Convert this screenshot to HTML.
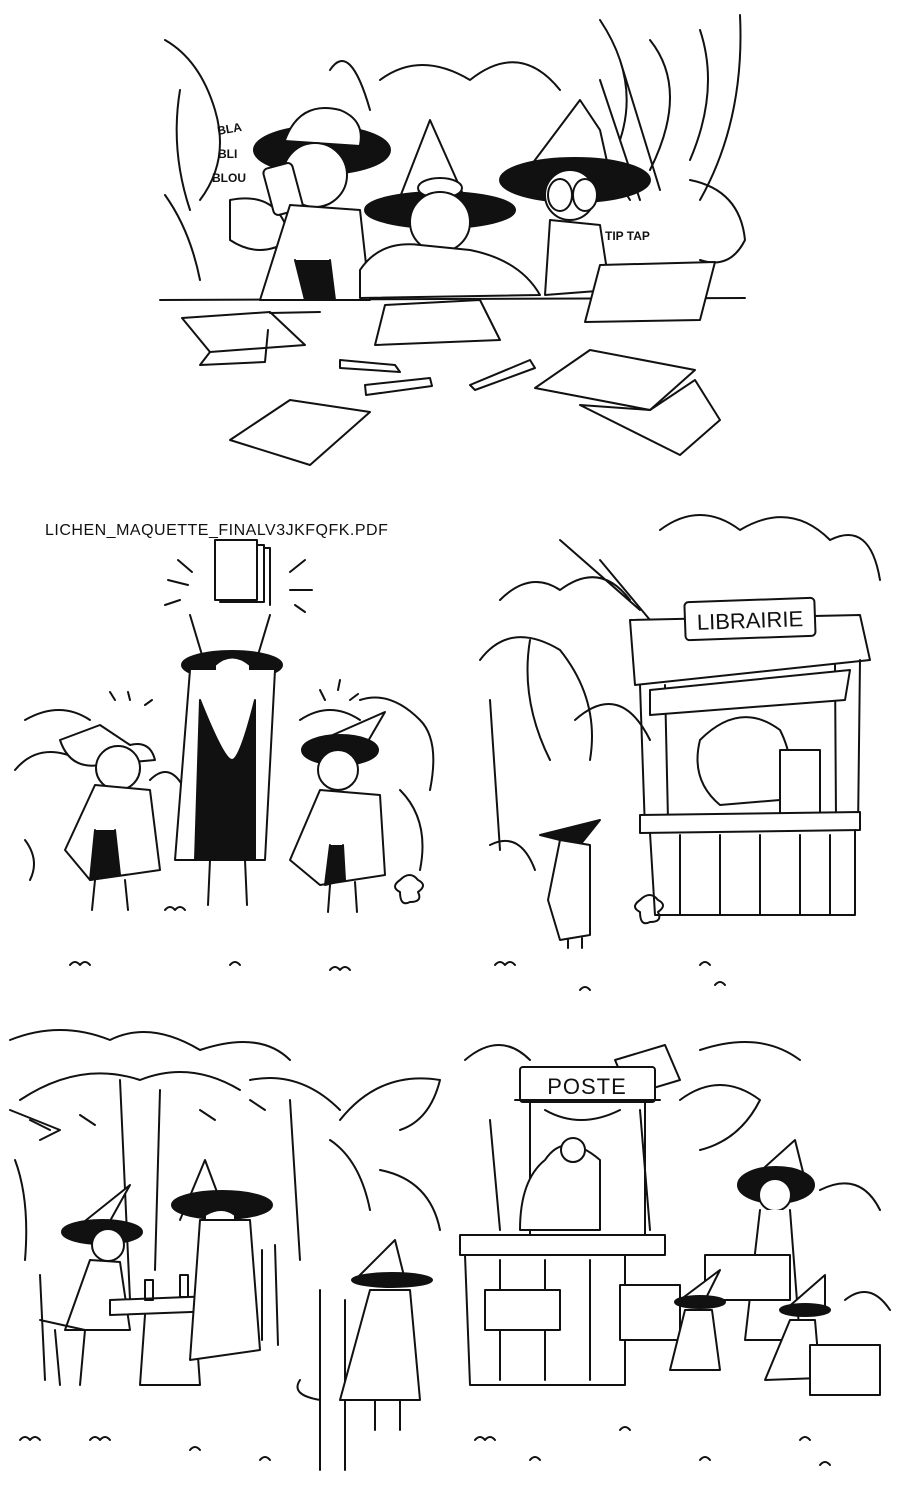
<!DOCTYPE html>
<html><head><meta charset="utf-8"><style>
html,body{margin:0;padding:0;background:#fff;width:900px;height:1490px;overflow:hidden}
svg{display:block}
text{font-family:"Liberation Sans",sans-serif;fill:#111}
</style></head><body>
<svg width="900" height="1490" viewBox="0 0 900 1490" xmlns="http://www.w3.org/2000/svg">
<g fill="none" stroke="#111" stroke-width="2" stroke-linecap="round" stroke-linejoin="round">
<!-- PANEL 1 -->
<path d="M165 40 Q200 60 215 110 Q230 160 200 200 M180 90 Q170 150 190 210 M165 195 Q190 230 200 280 M330 70 Q350 40 370 110 M380 80 Q420 50 470 80 Q520 40 560 90 M600 20 Q640 80 620 140 M650 40 Q690 90 650 170 M700 30 Q720 90 690 160 M740 15 Q745 120 700 200 M690 180 Q740 190 745 240 Q730 270 700 260 M600 80 L640 200 M620 60 L660 190 M580 120 L630 200"/>
<path d="M230 200 Q280 190 290 240 Q260 260 230 240 Z"/>
<line x1="160" y1="300" x2="745" y2="298"/>
<!-- witch 1 -->
<ellipse cx="322" cy="150" rx="68" ry="24" fill="#111"/>
<path d="M285 140 Q300 100 340 110 Q365 120 360 145" fill="#fff"/>
<circle cx="315" cy="175" r="32" fill="#fff"/>
<rect x="268" y="165" width="30" height="48" rx="5" transform="rotate(-15 283 189)" fill="#fff"/>
<path d="M290 205 L260 300 L370 300 L360 210 Z" fill="#fff"/>
<path d="M295 260 L305 300 L335 300 L330 260" fill="#111"/>
<!-- witch 2 -->
<path d="M395 210 L430 120 L470 210" fill="#fff"/>
<ellipse cx="440" cy="210" rx="75" ry="18" fill="#111"/>
<ellipse cx="440" cy="188" rx="22" ry="10" fill="#fff"/>
<circle cx="440" cy="222" r="30" fill="#fff"/>
<path d="M360 270 Q380 240 420 245 L470 250 Q520 260 540 295 L360 298 Z" fill="#fff"/>
<!-- witch 3 -->
<path d="M520 180 L580 100 L600 130 L610 175" fill="#fff"/>
<ellipse cx="575" cy="180" rx="75" ry="22" fill="#111"/>
<circle cx="570" cy="195" r="25" fill="#fff"/>
<ellipse cx="560" cy="195" rx="12" ry="16" fill="#fff"/><ellipse cx="585" cy="195" rx="12" ry="16" fill="#fff"/>
<path d="M550 220 L545 295 L610 290 L600 225 Z" fill="#fff"/>
<path d="M600 265 L715 262 L700 320 L585 322 Z" fill="#fff"/>
<!-- desk items -->
<path d="M182 318 L270 312 L305 345 L210 352 Z"/>
<path d="M210 352 L200 365 L265 362 L268 330"/>
<path d="M270 313 L320 312"/>
<path d="M385 305 L480 300 L500 340 L375 345 Z"/>
<path d="M340 360 L395 365 L400 372 L340 368 Z"/>
<path d="M365 385 L430 378 L432 386 L366 395 Z"/>
<path d="M470 385 L530 360 L535 368 L475 390 Z"/>
<path d="M535 388 L590 350 L695 370 L650 410 Z"/>
<path d="M580 405 L650 410 L695 380 L720 420 L680 455 Z"/>
<path d="M230 440 L290 400 L370 412 L310 465 Z"/>
</g>
<text x="218" y="135" font-size="12" font-weight="bold" transform="rotate(-10 218 135)">BLA</text>
<text x="218" y="158" font-size="12" font-weight="bold">BLI</text>
<text x="212" y="182" font-size="12" font-weight="bold">BLOU</text>
<text x="605" y="240" font-size="12" font-weight="bold">TIP TAP</text>

<!-- PANEL 2 -->
<text x="45" y="535" font-size="16" font-family="Liberation Mono" letter-spacing="0.5">LICHEN_MAQUETTE_FINALV3JKFQFK.PDF</text>
<g fill="none" stroke="#111" stroke-width="2" stroke-linecap="round" stroke-linejoin="round">
<rect x="215" y="540" width="42" height="60" fill="#fff"/><path d="M257 545 L264 545 L264 602 L220 602"/><path d="M264 548 L270 548 L270 605"/>
<path d="M168 580 L188 585 M178 560 L192 572 M290 572 L305 560 M290 590 L312 590 M295 605 L305 612 M165 605 L180 600"/>
<path d="M25 720 Q60 700 90 720 M15 770 Q40 740 80 760 M300 720 Q330 700 360 720 M360 700 Q390 690 420 720 Q440 740 430 790 M400 790 Q430 820 420 870 M150 780 Q170 760 185 790 M25 840 Q40 860 30 880"/>
<!-- left witch -->
<path d="M60 740 L100 725 L130 745 Q150 740 155 760 L100 765 Q70 770 60 740" fill="#fff"/>
<circle cx="118" cy="768" r="22" fill="#fff"/>
<path d="M95 785 L65 850 L90 880 L160 870 L150 790 Z" fill="#fff"/>
<path d="M95 830 L90 880 L120 875 L115 830" fill="#111"/>
<path d="M95 880 L92 910 M125 880 L128 910"/>
<!-- tall center -->
<path d="M190 615 L205 665 M270 615 L255 665"/>
<ellipse cx="232" cy="665" rx="50" ry="14" fill="#111"/>
<path d="M215 665 Q232 650 250 665 L250 720 Q240 735 232 740 Q224 735 215 720 Z" fill="#fff"/>
<path d="M190 670 L175 860 L265 860 L275 670" fill="#fff"/>
<path d="M200 700 L195 860 L255 860 L255 700 Q240 760 232 760 Q224 760 200 700" fill="#111"/>
<path d="M210 860 L208 905 M245 860 L247 905"/>
<!-- right witch -->
<path d="M310 745 L385 712 L360 755" fill="#fff"/>
<ellipse cx="340" cy="750" rx="38" ry="15" fill="#111"/>
<circle cx="338" cy="770" r="20" fill="#fff"/>
<path d="M320 790 L290 860 L320 885 L385 875 L380 795 Z" fill="#fff"/>
<path d="M330 845 L325 885 L345 880 L343 845" fill="#111"/>
<path d="M330 885 L328 912 M355 882 L357 912"/>
<path d="M115 700 L110 692 M128 692 L130 700 M145 705 L152 700 M320 690 L325 700 M340 680 L338 690 M350 700 L358 694"/>
<path d="M400 880 q10 -10 18 0 q10 5 0 12 q5 10 -8 10 q-10 5 -10 -10 q-10 -5 0 -12"/>
<path d="M70 965 q5 -6 10 0 q5 -6 10 0 M230 965 q5 -6 10 0 M330 970 q5 -6 10 0 q5 -6 10 0 M165 910 q5 -6 10 0 q5 -6 10 0"/>
<!-- PANEL 3 -->
<path d="M500 600 Q530 570 560 590 Q600 560 630 600 M560 540 L640 610 M600 560 L650 620 M660 530 Q700 500 740 530 Q790 500 830 540 Q870 520 880 580 M480 660 Q510 620 560 650 Q600 700 590 760 M530 640 Q520 700 550 760 M490 700 L500 850 M575 720 Q620 680 650 740"/>
<path d="M630 620 L860 615 L870 660 L635 685 Z" fill="#fff"/>
<path d="M640 685 L645 830 M860 660 L858 830 M665 685 L668 820 M835 665 L836 820"/>
<path d="M650 690 L850 670 L845 700 L650 715 Z" fill="#fff"/>
<rect x="685" y="600" width="130" height="38" rx="4" fill="#fff" transform="rotate(-2 750 620)"/>
<path d="M700 740 Q740 700 780 730 Q800 770 780 800 L720 805 Q690 780 700 740" fill="#fff"/>
<rect x="780" y="750" width="40" height="65" fill="#fff"/>
<path d="M640 815 L860 812 L860 830 L640 833 Z" fill="#fff"/>
<path d="M650 833 L655 915 L855 915 L855 830 M680 835 L680 915 M720 835 L720 915 M760 835 L760 915 M800 835 L800 915 M830 835 L830 915"/>
<path d="M540 835 L600 820 L580 845 Z" fill="#111"/>
<path d="M560 840 L548 900 L560 940 L590 935 L590 845 Z" fill="#fff"/>
<path d="M568 940 L568 948 M582 938 L582 948"/>
<path d="M490 845 Q520 830 535 870 M640 900 q10 -10 18 0 q10 5 0 12 q5 10 -8 10 q-10 5 -10 -10 q-10 -5 0 -12"/>
<path d="M495 965 q5 -6 10 0 q5 -6 10 0 M580 990 q5 -6 10 0 M700 965 q5 -6 10 0 M715 985 q5 -6 10 0"/>
<!-- PANEL 4 -->
<path d="M10 1040 Q60 1020 110 1040 Q150 1020 200 1050 Q260 1030 290 1060 M20 1100 Q80 1060 140 1080 Q190 1060 240 1090 M250 1080 Q300 1070 340 1110 M340 1120 Q380 1070 440 1080 Q430 1120 400 1130 M10 1110 L60 1130 L40 1140 M120 1080 L130 1300 M160 1090 L155 1270 M290 1100 L300 1260 M330 1140 Q360 1160 370 1210 M380 1170 Q430 1180 440 1230 M15 1160 Q30 1200 25 1260"/>
<path d="M30 1120 L50 1130 M80 1115 L95 1125 M200 1110 L215 1120 M250 1100 L265 1110"/>
<path d="M80 1225 L130 1185 L105 1230" fill="#fff"/>
<ellipse cx="102" cy="1232" rx="40" ry="12" fill="#111"/>
<circle cx="108" cy="1245" r="16" fill="#fff"/>
<path d="M90 1260 L65 1330 L130 1330 L120 1262 Z" fill="#fff"/>
<path d="M40 1275 L45 1380 M40 1320 L85 1330 L80 1385 M55 1330 L60 1385"/>
<path d="M110 1300 L240 1295 L245 1310 L110 1315 Z" fill="#fff"/>
<path d="M145 1315 L140 1385 L200 1385 L195 1315"/>
<rect x="145" y="1280" width="8" height="20"/><rect x="180" y="1275" width="8" height="22"/>
<path d="M180 1220 L205 1160 L220 1200" fill="#fff"/>
<ellipse cx="222" cy="1205" rx="50" ry="14" fill="#111"/>
<path d="M205 1215 Q222 1205 235 1215 L235 1260 L205 1260 Z" fill="#fff"/>
<path d="M200 1220 L190 1360 L260 1350 L250 1220 Z" fill="#fff"/>
<path d="M262 1250 L262 1340 M275 1245 L278 1345"/>
<path d="M320 1290 L320 1470 M345 1300 L345 1470 M300 1380 Q290 1395 320 1400"/>
<path d="M355 1280 L395 1240 L405 1280" fill="#fff"/>
<ellipse cx="392" cy="1280" rx="40" ry="7" fill="#111"/>
<path d="M370 1290 L340 1400 L420 1400 L410 1290 Z" fill="#fff"/>
<path d="M375 1400 L375 1430 M400 1400 L400 1430"/>
<path d="M20 1440 q5 -6 10 0 q5 -6 10 0 M90 1440 q5 -6 10 0 q5 -6 10 0 M190 1450 q5 -6 10 0 M260 1460 q5 -6 10 0"/>
<!-- PANEL 5 -->
<path d="M465 1060 Q500 1030 530 1060 M700 1050 Q760 1030 800 1060 M680 1100 Q720 1070 760 1100 Q740 1140 700 1150 M820 1190 Q860 1170 880 1210 M845 1300 Q870 1280 890 1310 M490 1120 L500 1230 M640 1110 L650 1230"/>
<path d="M615 1060 L665 1045 L680 1080 L630 1095 Z" fill="#fff"/>
<rect x="520" y="1067" width="135" height="35" rx="3" fill="#fff"/>
<path d="M515 1100 L660 1100 M530 1102 L530 1235 M645 1102 L645 1235 M545 1110 Q580 1130 620 1110"/>
<path d="M545 1160 Q565 1130 600 1160 L600 1230 L520 1230 Q520 1180 545 1160" fill="#fff"/>
<circle cx="573" cy="1150" r="12" fill="#fff"/>
<path d="M460 1235 L665 1235 L665 1255 L460 1255 Z" fill="#fff"/>
<path d="M465 1255 L470 1385 L625 1385 L625 1255 M500 1260 L500 1380 M545 1260 L545 1380 M590 1260 L590 1380"/>
<rect x="485" y="1290" width="75" height="40" fill="#fff"/>
<rect x="620" y="1285" width="60" height="55" fill="#fff"/>
<path d="M745 1185 L795 1140 L805 1180" fill="#fff"/>
<ellipse cx="776" cy="1185" rx="38" ry="18" fill="#111"/>
<circle cx="775" cy="1195" r="16" fill="#fff"/>
<path d="M760 1210 L745 1340 L800 1340 L790 1210" fill="#fff"/>
<rect x="705" y="1255" width="85" height="45" fill="#fff"/>
<path d="M680 1300 L720 1270 L705 1300" fill="#fff"/>
<ellipse cx="700" cy="1302" rx="25" ry="6" fill="#111"/>
<path d="M685 1310 L670 1370 L720 1370 L712 1310 Z" fill="#fff"/>
<path d="M785 1310 L825 1275 L825 1310" fill="#fff"/>
<ellipse cx="805" cy="1310" rx="25" ry="6" fill="#111"/>
<path d="M790 1320 L765 1380 L820 1378 L815 1320 Z" fill="#fff"/>
<rect x="810" y="1345" width="70" height="50" fill="#fff"/>
<path d="M475 1440 q5 -6 10 0 q5 -6 10 0 M530 1460 q5 -6 10 0 M620 1430 q5 -6 10 0 M700 1460 q5 -6 10 0 M800 1440 q5 -6 10 0 M820 1465 q5 -6 10 0"/>
</g>
<text x="750" y="628" font-size="22" text-anchor="middle" transform="rotate(-2 750 620)">LIBRAIRIE</text>
<text x="587" y="1094" font-size="22" text-anchor="middle" letter-spacing="1">POSTE</text>
</svg>
</body></html>
